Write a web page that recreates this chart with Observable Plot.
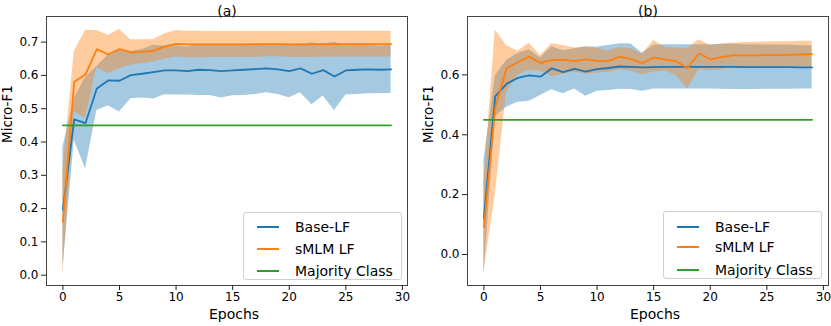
<!DOCTYPE html>
<html>
<head>
<meta charset="utf-8">
<script src="https://cdn.jsdelivr.net/npm/d3@7"></script>
<script src="https://cdn.jsdelivr.net/npm/@observablehq/plot@0.6"></script>
<style>
  html, body { margin: 0; padding: 0; background: #fff; }
  #wrap { position: relative; width: 831px; height: 326px; overflow: hidden; font-family: "DejaVu Sans", sans-serif; }
  #wrap svg { position: absolute; top: 0; }
  .legend { position: absolute; box-sizing: border-box; border: 1px solid #d0d0d0; border-radius: 3px; background: rgba(255,255,255,0.8); }
  .legend .row { position: absolute; left: 0; height: 0; }
  .legend .sw { position: absolute; height: 2px; margin-top: -1px; }
  .legend .lab { position: absolute; font-size: 14px; line-height: 14px; margin-top: -7px; white-space: nowrap; color: #000; }
</style>
</head>
<body>
<div id="wrap"></div>
<script>
// ---------- data ----------
const epochs = [0,1,2,3,4,5,6,7,8,9,10,11,12,13,14,15,16,17,18,19,20,21,22,23,24,25,26,27,28,29];
const seriesNames = ["Base-LF", "sMLM LF", "Majority Class"];
const seriesColors = ["#1f77b4", "#ff7f0e", "#2ca02c"];
const majorityValue = 0.45;
const xTicks = [0, 5, 10, 15, 20, 25, 30];
const aYTicks = [0.0, 0.1, 0.2, 0.3, 0.4, 0.5, 0.6, 0.7];
const bYTicks = [0.0, 0.2, 0.4, 0.6];

// panel (a)
const aBase   = [0.197,0.468,0.457,0.561,0.585,0.584,0.601,0.605,0.610,0.615,0.615,0.613,0.617,0.616,0.613,0.615,0.617,0.619,0.621,0.618,0.613,0.621,0.605,0.616,0.597,0.615,0.617,0.618,0.617,0.618];
const aBaseLo = [0.020,0.405,0.320,0.495,0.509,0.490,0.530,0.532,0.529,0.542,0.541,0.541,0.540,0.540,0.532,0.539,0.540,0.543,0.548,0.543,0.533,0.548,0.512,0.538,0.495,0.541,0.543,0.545,0.546,0.546];
const aBaseHi = [0.384,0.531,0.594,0.627,0.661,0.678,0.672,0.678,0.691,0.688,0.689,0.685,0.694,0.692,0.694,0.691,0.694,0.695,0.694,0.693,0.693,0.694,0.698,0.694,0.699,0.689,0.691,0.691,0.688,0.690];
const aSmlm   = [0.160,0.581,0.603,0.679,0.663,0.679,0.669,0.671,0.674,0.687,0.695,0.693,0.693,0.693,0.693,0.693,0.693,0.693,0.694,0.694,0.693,0.693,0.693,0.694,0.694,0.694,0.694,0.694,0.694,0.694];
const aSmlmLo = [0.004,0.490,0.471,0.623,0.605,0.620,0.631,0.635,0.640,0.649,0.655,0.653,0.653,0.654,0.654,0.654,0.654,0.654,0.656,0.656,0.654,0.654,0.654,0.655,0.655,0.655,0.655,0.655,0.655,0.655];
const aSmlmHi = [0.316,0.672,0.735,0.735,0.721,0.738,0.707,0.707,0.708,0.725,0.735,0.733,0.733,0.732,0.732,0.732,0.732,0.732,0.732,0.732,0.732,0.732,0.732,0.733,0.733,0.733,0.733,0.733,0.733,0.733];

// panel (b)
const bBase   = [0.122,0.528,0.570,0.590,0.598,0.594,0.622,0.609,0.620,0.611,0.619,0.623,0.628,0.627,0.625,0.626,0.627,0.627,0.627,0.627,0.627,0.627,0.627,0.626,0.626,0.626,0.626,0.626,0.625,0.625];
const bBaseLo = [-0.070,0.460,0.492,0.509,0.512,0.531,0.550,0.537,0.553,0.529,0.545,0.548,0.552,0.551,0.545,0.553,0.553,0.553,0.553,0.553,0.553,0.552,0.551,0.551,0.551,0.552,0.552,0.552,0.553,0.553];
const bBaseHi = [0.314,0.596,0.648,0.671,0.684,0.657,0.694,0.681,0.687,0.693,0.693,0.698,0.704,0.703,0.672,0.699,0.701,0.701,0.701,0.701,0.701,0.702,0.703,0.701,0.701,0.700,0.700,0.700,0.697,0.697];
const bSmlm   = [0.091,0.490,0.622,0.642,0.661,0.640,0.649,0.650,0.646,0.652,0.647,0.646,0.661,0.653,0.639,0.658,0.652,0.645,0.623,0.672,0.652,0.659,0.665,0.665,0.665,0.666,0.666,0.667,0.668,0.669];
const bSmlmLo = [-0.060,0.200,0.542,0.600,0.615,0.612,0.595,0.602,0.609,0.603,0.606,0.609,0.617,0.612,0.601,0.609,0.614,0.598,0.553,0.620,0.614,0.618,0.625,0.625,0.626,0.626,0.626,0.627,0.627,0.627];
const bSmlmHi = [0.240,0.750,0.698,0.679,0.706,0.665,0.704,0.698,0.690,0.694,0.688,0.681,0.692,0.687,0.670,0.715,0.692,0.690,0.688,0.717,0.698,0.703,0.706,0.708,0.709,0.710,0.711,0.711,0.712,0.712];

// ---------- build ----------
const rows = (m, lo, hi) => epochs.map((e, i) => ({e, m: m[i], lo: lo[i], hi: hi[i]}));
const majRows = epochs.map(e => ({e, v: majorityValue}));

function panel({title, left, width, marginLeft, marginRight, yDomain, yTicks, base, smlm}) {
  const svg = Plot.plot({
    width, height: 326,
    marginLeft, marginRight, marginTop: 16, marginBottom: 41,
    x: {domain: [-1.45, 30.45]},
    y: {domain: yDomain},
    style: {fontFamily: "DejaVu Sans", fontSize: "12px", color: "#000", background: "transparent", overflow: "visible"},
    marks: [
      Plot.areaY(base, {x: "e", y1: "lo", y2: "hi", fill: seriesColors[0], fillOpacity: 0.4}),
      Plot.areaY(smlm, {x: "e", y1: "lo", y2: "hi", fill: seriesColors[1], fillOpacity: 0.4}),
      Plot.lineY(base, {x: "e", y: "m", stroke: seriesColors[0], strokeWidth: 1.8}),
      Plot.lineY(smlm, {x: "e", y: "m", stroke: seriesColors[1], strokeWidth: 1.8}),
      Plot.lineY(majRows, {x: "e", y: "v", stroke: seriesColors[2], strokeWidth: 1.8}),
      Plot.frame({stroke: "#444", strokeWidth: 1}),
      Plot.axisX({ticks: xTicks, tickSize: 5, tickPadding: 2, label: null, stroke: "#222"}),
      Plot.axisY({ticks: yTicks, tickSize: 5, tickPadding: 3, label: null, tickFormat: d => d.toFixed(1), stroke: "#222"}),
      Plot.text([title], {text: d => d, frameAnchor: "top", dy: -10.5, fontSize: 14}),
      Plot.text(["Epochs"], {text: d => d, frameAnchor: "bottom", dy: 33, dx: 7, fontSize: 14}),
      Plot.text(["Micro-F1"], {text: d => d, frameAnchor: "left", dx: -38.5, dy: -8, rotate: -90, fontSize: 13.5})
    ]
  });
  svg.style.left = left + "px";
  return svg;
}

const wrap = document.getElementById("wrap");
wrap.appendChild(panel({
  title: "(a)", left: 0, width: 415, marginLeft: 46, marginRight: 8,
  yDomain: [-0.031, 0.777], yTicks: aYTicks,
  base: rows(aBase, aBaseLo, aBaseHi), smlm: rows(aSmlm, aSmlmLo, aSmlmHi)
}));
wrap.appendChild(panel({
  title: "(b)", left: 415, width: 416, marginLeft: 52, marginRight: 3,
  yDomain: [-0.1035, 0.795], yTicks: bYTicks,
  base: rows(bBase, bBaseLo, bBaseHi), smlm: rows(bSmlm, bSmlmLo, bSmlmHi)
}));

function legend(box, rowsY, swX, labX) {
  const d = document.createElement("div");
  d.className = "legend";
  d.style.left = box[0] + "px"; d.style.top = box[1] + "px";
  d.style.width = box[2] + "px"; d.style.height = box[3] + "px";
  seriesNames.forEach((name, i) => {
    const r = document.createElement("div");
    r.className = "row"; r.style.top = rowsY[i] + "px";
    const sw = document.createElement("div");
    sw.className = "sw"; sw.style.left = swX[0] + "px"; sw.style.width = swX[1] + "px";
    sw.style.background = seriesColors[i];
    const lab = document.createElement("div");
    lab.className = "lab"; lab.style.left = labX + "px"; lab.textContent = name;
    r.appendChild(sw); r.appendChild(lab); d.appendChild(r);
  });
  wrap.appendChild(d);
}
legend([243, 212, 159, 68], [14, 36, 57.5], [13, 22], 51);
legend([663, 211, 159, 68], [14.5, 35, 57.5], [12.5, 22], 51);
</script>
</body>
</html>
